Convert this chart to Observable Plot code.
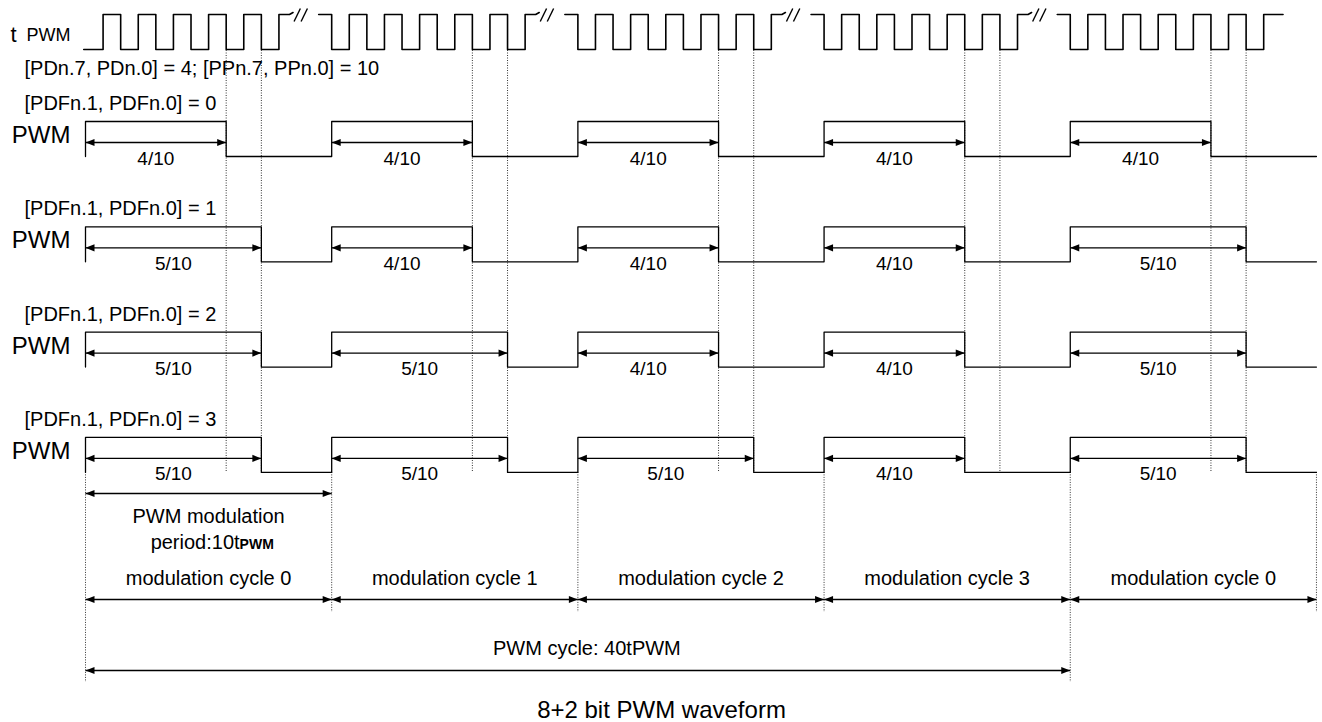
<!DOCTYPE html>
<html>
<head>
<meta charset="utf-8">
<script src="https://cdn.jsdelivr.net/npm/d3@7"></script>
<script src="https://cdn.jsdelivr.net/npm/@observablehq/plot@0.6"></script>
<style>
  html, body { margin: 0; padding: 0; background: #fff; }
  #chart svg { display: block; }
</style>
</head>
<body>
<div id="chart"></div>
<script>
// ---------------- data ----------------
const clockName = ["t", "PWM"];
const registerNote = ["[PDn.7, PDn.0] = 4; [PPn.7, PPn.0] = 10"];
const pdfSettings = [0, 1, 2, 3];                 // [PDFn.1, PDFn.0]
const dutyTPWM = [                                // high time (tPWM) in each modulation cycle
  [4, 4, 4, 4, 4],
  [5, 4, 4, 4, 5],
  [5, 5, 4, 4, 5],
  [5, 5, 5, 4, 5]
];
const modulationPeriod = 10;                      // tPWM per modulation cycle
const cycleLabels = ["modulation cycle 0", "modulation cycle 1", "modulation cycle 2", "modulation cycle 3", "modulation cycle 0"];
const clockPulsesShown = 6;                       // clock pulses drawn before the "//" break
const pwmCycleCycles = 4;                         // PWM cycle = 4 modulation cycles (40 tPWM)
const periodLabel = ["PWM modulation", "period:10t", "PWM"];
const cycleNote = ["PWM cycle: 40tPWM"];
const titleText = ["8+2 bit PWM waveform"];

// ---------------- layout ----------------
const W = 1322, H = 722;
const tPx = 35.17, leftPx = 85;                   // px per tPWM, left edge of first cycle
const drawnCycle = 7;                             // drawn width (tPWM) of one 10-tPWM cycle with break
const nCycles = cycleLabels.length;
const clockHigh = 14, clockLow = 49;
const rowHigh = r => 121 + 105.3 * r;
const rowSwing = 35;
const font = "'Liberation Sans', Arial, sans-serif";

// clock trace
const clockPts = [];
const slashes = [];
for (let c = 0; c < nCycles; c++) {
  const s = c * drawnCycle;
  const P = (x, y) => clockPts.push({seg: c, x, y});
  if (c === 0) P(s - 0.05, clockLow);
  else { P(s - 0.37, clockHigh); P(s, clockHigh); P(s, clockLow); }
  for (let k = 0; k < clockPulsesShown; k++) {
    P(s + k + 0.5, clockLow); P(s + k + 0.5, clockHigh);
    if (k < clockPulsesShown - 1) { P(s + k + 1, clockHigh); P(s + k + 1, clockLow); }
  }
  if (c < nCycles - 1) {
    P(s + 5.8, clockHigh); P(s + 5.9, clockHigh - 2);
    slashes.push({x1: s + 5.93, y1: 21, x2: s + 6.11, y2: 8});
    slashes.push({x1: s + 6.13, y1: 21, x2: s + 6.31, y2: 8});
  } else {
    P(s + 6.05, clockHigh);
  }
}

// PWM traces, duty arrows and ratio labels
const pwmPts = [], dutyArrows = [], ratioLabels = [];
dutyTPWM.forEach((row, r) => {
  const hi = rowHigh(r), lo = hi + rowSwing;
  row.forEach((d, c) => {
    const s = c * drawnCycle;
    pwmPts.push({row: r, x: s, y: lo}, {row: r, x: s, y: hi}, {row: r, x: s + d, y: hi}, {row: r, x: s + d, y: lo});
    dutyArrows.push({x1: s, x2: s + d, y: hi + 21});
    ratioLabels.push({x: s + d / 2, y: hi + 37, text: `${d}/${modulationPeriod}`});
  });
  pwmPts.push({row: r, x: nCycles * drawnCycle, y: lo});
});
const rowLabels = pdfSettings.map((v, r) => ({y: rowHigh(r) - 18, text: `[PDFn.1, PDFn.0] = ${v}`}));
const pwmLabels = pdfSettings.map((v, r) => ({y: rowHigh(r) + 14, text: "PWM"}));

// dotted guides at the falling edges (4 and 5 tPWM)
const edgeValues = [...new Set(dutyTPWM.flat())].sort();
const edgeGuides = [];
for (let c = 0; c < nCycles; c++) for (const d of edgeValues)
  edgeGuides.push({x: c * drawnCycle + d, y1: clockLow + 1, y2: rowHigh(3) + rowSwing});
const cycleGuides = d3.range(nCycles + 1).map(c => ({
  x: c * drawnCycle, y1: rowHigh(3) + rowSwing,
  y2: (c === 0 || c === pwmCycleCycles) ? 682 : 612
}));

// bottom arrows
const modArrowY = 493, cycleArrowY = 599, pwmArrowY = 670;
const cycleArrows = cycleLabels.map((l, c) => ({x1: c * drawnCycle, x2: (c + 1) * drawnCycle, y: cycleArrowY}));
const otherArrows = [
  {x1: 0, x2: drawnCycle, y: modArrowY},
  {x1: 0, x2: pwmCycleCycles * drawnCycle, y: pwmArrowY}
];
const allArrows = [...dutyArrows, ...cycleArrows, ...otherArrows];

// arrow heads (filled triangles, tip at origin)
const headRight = {draw(ctx) { ctx.moveTo(0, 0); ctx.lineTo(-9, -3.6); ctx.lineTo(-9, 3.6); ctx.closePath(); }};
const headLeft  = {draw(ctx) { ctx.moveTo(0, 0); ctx.lineTo(9, -3.6); ctx.lineTo(9, 3.6); ctx.closePath(); }};

const guideStyle = {stroke: "#333", strokeWidth: 1, strokeDasharray: "1,1.5"};

const chart = Plot.plot({
  width: W, height: H, margin: 0,
  x: {domain: [-leftPx / tPx, (W - leftPx) / tPx], range: [0, W], axis: null},
  y: {type: "identity", axis: null},
  style: {fontFamily: font, background: "#fff", color: "#000"},
  marks: [
    // dotted guides
    Plot.ruleX(edgeGuides, {x: "x", y1: "y1", y2: "y2", ...guideStyle}),
    Plot.ruleX(cycleGuides, {x: "x", y1: "y1", y2: "y2", ...guideStyle}),
    // clock
    Plot.line(clockPts, {x: "x", y: "y", z: "seg", stroke: "#000", strokeWidth: 1.6, curve: "linear"}),
    Plot.link(slashes, {x1: "x1", y1: "y1", x2: "x2", y2: "y2", stroke: "#000", strokeWidth: 1.4}),
    Plot.text([clockName[0]], {frameAnchor: "left", dx: 10, y: 34, text: d => d, fontSize: 22, textAnchor: "start"}),
    Plot.text([clockName[1]], {frameAnchor: "left", dx: 26, y: 35, text: d => d, fontSize: 18, textAnchor: "start"}),
    Plot.text(registerNote, {frameAnchor: "left", dx: 24, y: 68, text: d => d, fontSize: 20, textAnchor: "start"}),
    // PWM rows
    Plot.line(pwmPts, {x: "x", y: "y", z: "row", stroke: "#000", strokeWidth: 1.3, curve: "linear"}),
    Plot.text(rowLabels, {frameAnchor: "left", dx: 24, y: "y", text: "text", fontSize: 20, textAnchor: "start"}),
    Plot.text(pwmLabels, {frameAnchor: "left", dx: 70, y: "y", text: "text", fontSize: 24, textAnchor: "end"}),
    Plot.text(ratioLabels, {x: "x", y: "y", text: "text", fontSize: 19}),
    // arrows
    Plot.link(allArrows, {x1: "x1", x2: "x2", y1: "y", y2: "y", stroke: "#000", strokeWidth: 1.3}),
    Plot.dot(allArrows, {x: "x2", y: "y", symbol: headRight, fill: "#000", stroke: "none"}),
    Plot.dot(allArrows, {x: "x1", y: "y", symbol: headLeft, fill: "#000", stroke: "none"}),
    // bottom labels
    Plot.text([periodLabel[0]], {x: drawnCycle / 2, y: 516, text: d => d, fontSize: 20}),
    Plot.text([periodLabel[1]], {x: drawnCycle / 2, dx: 31, y: 542, text: d => d, fontSize: 20, textAnchor: "end"}),
    Plot.text([periodLabel[2]], {x: drawnCycle / 2, dx: 31, y: 544, text: d => d, fontSize: 14, fontWeight: "bold", textAnchor: "start"}),
    Plot.text(cycleLabels.map((t, c) => ({t, x: c * drawnCycle + drawnCycle / 2})), {x: "x", y: 578, text: "t", fontSize: 20}),
    Plot.text(cycleNote, {x: pwmCycleCycles * drawnCycle / 2, dx: 9, y: 648, text: d => d, fontSize: 20}),
    Plot.text(titleText, {frameAnchor: "middle", y: 710, text: d => d, fontSize: 24})
  ]
});
document.getElementById("chart").appendChild(chart);
</script>
</body>
</html>
